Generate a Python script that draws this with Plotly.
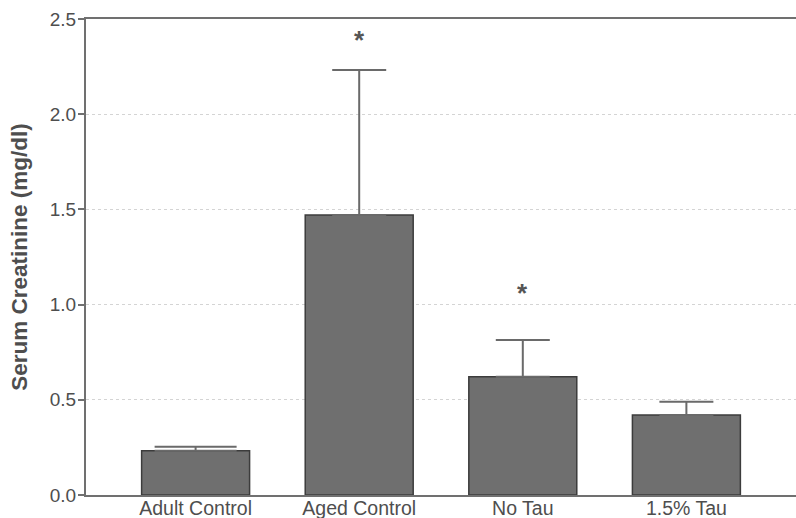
import plotly.graph_objects as go

categories = ["Adult Control", "Aged Control", "No Tau", "1.5% Tau"]
means = [0.233, 1.47, 0.621, 0.42]
sem_upper = [0.021, 0.762, 0.193, 0.07]
star_y = [None, 2.39, 1.06, None]
y_ticks = [0.0, 0.5, 1.0, 1.5, 2.0, 2.5]

font_family = "Liberation Sans, Arial, sans-serif"
text_col = "#4e4e4e"
axis_col = "#707070"

fig = go.Figure()
fig.add_trace(go.Bar(
    x=categories, y=means, width=0.66,
    marker=dict(color="#6f6f6f", line=dict(color="#3c3c3c", width=1.5)),
    showlegend=False, hoverinfo="skip",
))
# error bars (upper only)
fig.add_trace(go.Scatter(
    x=categories[:1], y=means[:1], mode="markers", marker=dict(size=0.1, color="rgba(0,0,0,0)"),
    error_y=dict(type="data", symmetric=False, array=sem_upper[:1], arrayminus=[0],
                 color="#6a6a6a", thickness=2, width=41),
    showlegend=False, hoverinfo="skip",
))
fig.add_trace(go.Scatter(
    x=categories[1:], y=means[1:], mode="markers", marker=dict(size=0.1, color="rgba(0,0,0,0)"),
    error_y=dict(type="data", symmetric=False, array=sem_upper[1:], arrayminus=[0, 0, 0],
                 color="#6a6a6a", thickness=2, width=27),
    showlegend=False, hoverinfo="skip",
))
for c, s in zip(categories, star_y):
    if s is not None:
        fig.add_annotation(x=c, y=s, text="<b>*</b>", showarrow=False,
                           font=dict(family=font_family, size=26, color="#555555"))

fig.update_layout(
    width=796, height=518,
    margin=dict(l=86, r=0, t=19, b=23),
    plot_bgcolor="white", paper_bgcolor="white",
    font=dict(family=font_family, color=text_col, size=19),
)
fig.update_xaxes(
    type="category", range=[-0.67, 3.67],
    showline=True, linecolor=axis_col, linewidth=2, mirror=True,
    ticks="", showgrid=False, automargin=False,
    tickfont=dict(size=19.5, color=text_col),
    ticklabelstandoff=-5,
)
fig.update_yaxes(
    range=[0, 2.5], tickvals=y_ticks, ticktext=[f"{v:.1f}" for v in y_ticks],
    showline=True, linecolor=axis_col, linewidth=2,
    ticks="outside", ticklen=6, tickwidth=1.5, tickcolor=axis_col,
    showgrid=True, gridcolor="#d4d4d4", griddash="dot", gridwidth=1,
    zeroline=False, automargin=False,
    tickfont=dict(size=19, color=text_col),
    ticklabelstandoff=-2,
    title=dict(text="<b>Serum Creatinine (mg/dl)</b>", font=dict(size=22.5, color=text_col), standoff=16),
)

fig.write_html("out.html")
